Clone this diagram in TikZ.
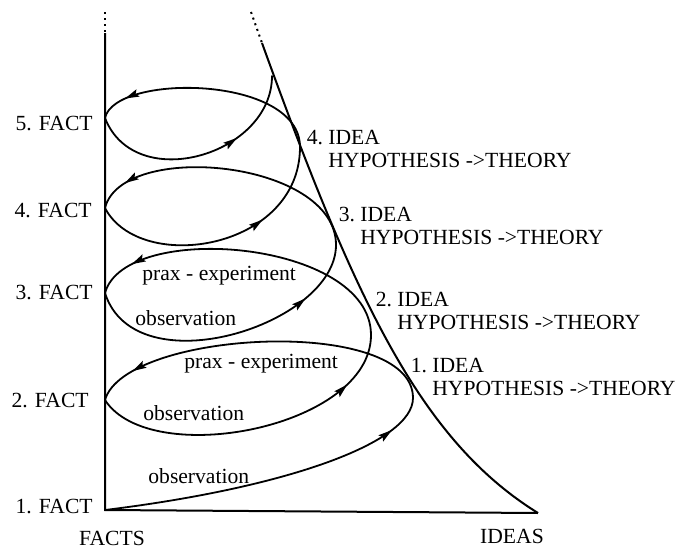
\documentclass[tikz,border=0pt]{standalone}
\usepackage{fontspec}
\setmainfont{Liberation Serif}
\usepackage{tikz}
\usetikzlibrary{decorations.markings}

\begin{document}
\begin{tikzpicture}[x=0.5pt, y=-0.5pt,
          axis/.style={line width=1pt, black},
          spiral/.style={line width=0.9pt, black, line cap=round},
          txt/.style={font=\fontsize{10.8}{11.5}\selectfont, inner sep=0pt},
          idea/.style={txt, align=left, anchor=north west},
          midarr/.style={postaction={decorate}, decoration={markings,
              mark=at position #1 with {\fill (-6.5pt,-2pt) -- (0.5pt,0pt)
                -- (-6.5pt,2pt) -- (-5.2pt,0pt) -- cycle;}}}
        ]
        \useasboundingbox (0,0) rectangle (682,547);
        %% Points on the facts axis
        \coordinate (f1) at (105,510);
        \coordinate (f2) at (105,400);
        \coordinate (f3) at (105,293);
        \coordinate (f4) at (105,208);
        \coordinate (f5) at (105,118);
        \coordinate (axtop) at (105,33);
        \coordinate (axdots) at (105,12);
        %% Ideas curve
        \coordinate (apex) at (538,513);
        \coordinate (ctop) at (262,43);
        \coordinate (cdots) at (251,12);
        %% Right turning points of the spiral
        \coordinate (r1) at (413,398);
        \coordinate (r2) at (371,335);
        \coordinate (r3) at (336,245);
        \coordinate (r4) at (300,147);
        \coordinate (rend) at (272,76);
        %% Axes
        \draw[axis] (axtop) -- (f1) -- (apex);
        \draw[axis] (ctop) .. controls (355,300) and (420,440) .. (apex);
        \draw[axis, dotted] (axdots) -- (axtop);
        \draw[axis, dotted] (cdots) -- (ctop);
        %% Spiral: lower arcs go to the idea, upper arcs back to the next fact
        \draw[spiral, midarr=0.88] (f1) .. controls +(180,-22) and +(0,45) .. (r1);
        \draw[spiral, midarr=0.88] (r1) .. controls +(0,-83) and +(20,-70) .. (f2);
        \draw[spiral, midarr=0.82] (f2) .. controls +(45,70) and +(0,93) .. (r2);
        \draw[spiral, midarr=0.87] (r2) .. controls +(0,-95) and +(20,-73) .. (f3);
        \draw[spiral, midarr=0.78] (f3) .. controls +(30,95) and +(0,80) .. (r3);
        \draw[spiral, midarr=0.88] (r3) .. controls +(0,-85) and +(17,-68) .. (f4);
        \draw[spiral, midarr=0.67] (f4) .. controls +(35,67) and +(0,103) .. (r4);
        \draw[spiral, midarr=0.87] (r4) .. controls +(0,-72) and +(10,-45) .. (f5);
        \draw[spiral, midarr=0.67] (f5) .. controls +(30,77) and +(0,79) .. (rend);
        %% Fact labels
        \node[txt, anchor=base east] (fact1) at (93,513) {1. FACT};
        \node[txt, anchor=base east] (fact2) at (89,407) {2. FACT};
        \node[txt, anchor=base east] (fact3) at (93,299) {3. FACT};
        \node[txt, anchor=base east] (fact4) at (92,217) {4. FACT};
        \node[txt, anchor=base east] (fact5) at (93,130) {5. FACT};
        \node[txt, anchor=base] (facts) at (112,545) {FACTS};
        \node[txt, anchor=base] (ideas) at (512,543) {IDEAS};
        %% Idea labels
        \node[idea] (idea1) at (432,358) {\llap{1.\ }IDEA\\HYPOTHESIS ->THEORY};
        \node[idea] (idea2) at (397,292) {\llap{2.\ }IDEA\\HYPOTHESIS ->THEORY};
        \node[idea] (idea3) at (360,207) {\llap{3.\ }IDEA\\HYPOTHESIS ->THEORY};
        \node[idea] (idea4) at (328,130) {\llap{4.\ }IDEA\\HYPOTHESIS ->THEORY};
        %% Arc labels
        \node[txt, anchor=base west] (obs1) at (148,483) {observation};
        \node[txt, anchor=base west] (prax1) at (184,368) {prax - experiment};
        \node[txt, anchor=base west] (obs2) at (143,420) {observation};
        \node[txt, anchor=base west] (prax2) at (142,280) {prax - experiment};
        \node[txt, anchor=base west] (obs3) at (135,325) {observation};
\end{tikzpicture}
\end{document}
